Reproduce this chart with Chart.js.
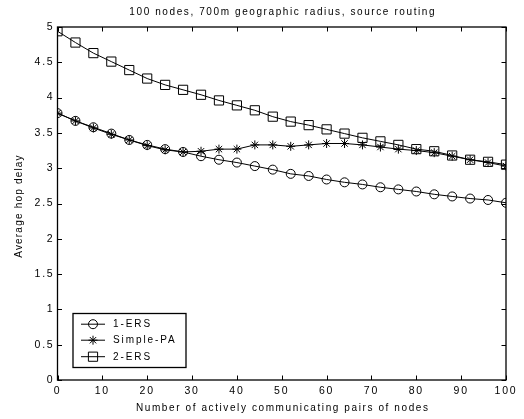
<!DOCTYPE html>
<html>
<head>
<meta charset="utf-8">
<script src="https://cdn.jsdelivr.net/npm/chart.js@4/dist/chart.umd.min.js"></script>
<style>
  html, body { margin: 0; padding: 0; background: #fff; }
  #wrap { width: 524px; height: 419px; }
</style>
</head>
<body>
<div id="wrap"><canvas id="c" width="524" height="419"></canvas></div>
<script>
// Number of actively communicating pairs
const pairs = [0, 4, 8, 12, 16, 20, 24, 28, 32, 36, 40, 44, 48, 52, 56, 60, 64, 68, 72, 76, 80, 84, 88, 92, 96, 100];

// Average hop delay per scheme
const ers1 = [3.78, 3.67, 3.58, 3.49, 3.40, 3.33, 3.27, 3.23, 3.17, 3.12, 3.08, 3.03, 2.98, 2.92, 2.89, 2.84, 2.80, 2.77, 2.73, 2.70, 2.67, 2.63, 2.60, 2.57, 2.55, 2.51];
const simplePA = [3.78, 3.67, 3.57, 3.48, 3.40, 3.32, 3.26, 3.23, 3.24, 3.27, 3.27, 3.33, 3.33, 3.31, 3.33, 3.35, 3.35, 3.33, 3.30, 3.27, 3.25, 3.22, 3.17, 3.12, 3.08, 3.03];
const ers2 = [4.94, 4.78, 4.63, 4.51, 4.39, 4.27, 4.18, 4.11, 4.04, 3.96, 3.89, 3.82, 3.73, 3.66, 3.61, 3.55, 3.49, 3.43, 3.38, 3.33, 3.27, 3.24, 3.18, 3.12, 3.09, 3.05];

const seriesNames = ['1-ERS', 'Simple-PA', '2-ERS'];
const markerStyles = ['circle', 'star', 'rect'];

const chartTitle = '100 nodes, 700m geographic radius, source routing';
const xTitle = 'Number of actively communicating pairs of nodes';
const yTitle = 'Average hop delay';

const FONT = '"Liberation Sans", Arial, sans-serif';

function toPoints(ys) { return pairs.map((x, i) => ({ x: x, y: ys[i] })); }

// Wide letter spacing for all canvas text
const spacingPlugin = {
  id: 'spacing',
  beforeDraw(chart) { chart.ctx.letterSpacing = '1.8px'; }
};

// Frame, inward ticks, titles and boxed legend
const framePlugin = {
  id: 'frame',
  afterDraw(chart) {
    const ctx = chart.ctx;
    const a = chart.chartArea;
    const xs = chart.scales.x, ys = chart.scales.y;
    ctx.save();
    ctx.strokeStyle = '#000';
    ctx.lineWidth = 1;
    // inward ticks on all four sides
    const tl = 4.5;
    ctx.beginPath();
    xs.ticks.forEach(t => {
      const px = Math.round(xs.getPixelForValue(t.value)) + 0.5;
      ctx.moveTo(px, a.bottom); ctx.lineTo(px, a.bottom - tl);
      ctx.moveTo(px, a.top); ctx.lineTo(px, a.top + tl);
    });
    ys.ticks.forEach(t => {
      const py = Math.round(ys.getPixelForValue(t.value)) + 0.5;
      ctx.moveTo(a.left, py); ctx.lineTo(a.left + tl, py);
      ctx.moveTo(a.right, py); ctx.lineTo(a.right - tl, py);
    });
    ctx.stroke();
    // box
    ctx.lineWidth = 1.3;
    ctx.strokeRect(a.left, a.top, a.right - a.left, a.bottom - a.top);

    // chart title and x-axis title
    ctx.fillStyle = '#000';
    ctx.font = '10px ' + FONT;
    ctx.letterSpacing = '1.6px';
    ctx.textAlign = 'center';
    ctx.textBaseline = 'middle';
    ctx.fillText(chartTitle, (a.left + a.right) / 2 + 1, 12);
    ctx.fillText(xTitle, (a.left + a.right) / 2 + 1, 408);

    // y-axis title
    ctx.save();
    ctx.letterSpacing = '1.2px';
    ctx.font = '10px ' + FONT;
    ctx.translate(19.5, 206);
    ctx.rotate(-Math.PI / 2);
    ctx.fillText(yTitle, 0, 0);
    ctx.restore();

    // legend
    const bx = a.left + 15.5, by = a.bottom - 66.5, bw = 113, bh = 54;
    ctx.fillStyle = '#fff';
    ctx.fillRect(bx, by, bw, bh);
    ctx.lineWidth = 1.3;
    ctx.strokeRect(bx, by, bw, bh);
    ctx.font = '10px ' + FONT;
    ctx.letterSpacing = '1.9px';
    const rows = [10.7, 26.7, 43.2];
    chart.data.datasets.forEach((ds, i) => {
      const ry = by + rows[i];
      ctx.lineWidth = 1;
      ctx.strokeStyle = '#000';
      ctx.beginPath();
      ctx.moveTo(bx + 8, ry); ctx.lineTo(bx + 32, ry);
      ctx.stroke();
      ctx.fillStyle = 'rgba(255,255,255,0)';
      Chart.helpers.drawPoint(ctx, {
        pointStyle: ds.pointStyle, radius: ds.pointRadius, borderWidth: 1
      }, bx + 20, ry);
      ctx.fillStyle = '#000';
      ctx.textAlign = 'left';
      ctx.textBaseline = 'middle';
      ctx.fillText(ds.label, bx + 40, ry + 0.5);
    });
    ctx.restore();
  }
};

function makeDataset(i, ys) {
  return {
    label: seriesNames[i],
    data: toPoints(ys),
    borderColor: '#000',
    backgroundColor: 'rgba(255,255,255,0)',
    borderWidth: 1,
    pointStyle: markerStyles[i],
    pointRadius: markerStyles[i] === 'rect' ? 6.5 : 4.5,
    pointBorderColor: '#000',
    pointBackgroundColor: 'rgba(255,255,255,0)',
    pointBorderWidth: 1,
    tension: 0,
    fill: false
  };
}

new Chart(document.getElementById('c'), {
  type: 'line',
  data: {
    datasets: [makeDataset(0, ers1), makeDataset(1, simplePA), makeDataset(2, ers2)]
  },
  plugins: [spacingPlugin, framePlugin],
  options: {
    responsive: false,
    animation: false,
    devicePixelRatio: 1,
    layout: { padding: { top: 27, right: 18, left: 0, bottom: 0 } },
    plugins: {
      legend: { display: false },
      title: { display: false },
      tooltip: { enabled: false }
    },
    scales: {
      x: {
        type: 'linear',
        min: 0, max: 100,
        ticks: {
          stepSize: 10,
          color: '#000',
          font: { family: FONT, size: 10.5 },
          padding: 5,
          maxRotation: 0
        },
        grid: { display: true, drawOnChartArea: false, drawTicks: false },
        border: { display: false },
        title: { display: false },
        afterFit(scale) { scale.height = 39; }
      },
      y: {
        type: 'linear',
        min: 0, max: 5,
        ticks: {
          stepSize: 0.5,
          color: '#000',
          font: { family: FONT, size: 10.5 },
          padding: 3,
          callback: v => String(Math.round(v * 10) / 10)
        },
        grid: { display: true, drawOnChartArea: false, drawTicks: false },
        border: { display: false },
        title: { display: false },
        afterFit(scale) { scale.width = 57.5; }
      }
    }
  }
});
</script>
</body>
</html>
